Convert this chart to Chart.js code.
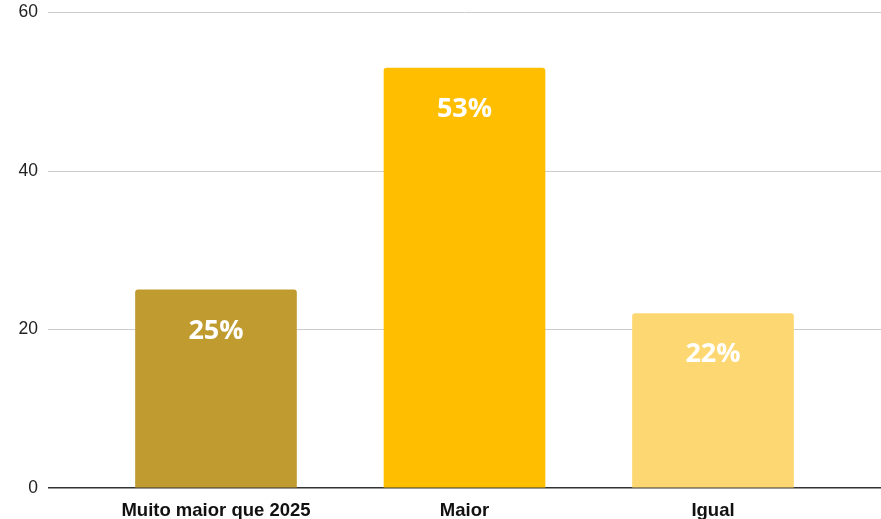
<!DOCTYPE html>
<html>
<head>
<meta charset="utf-8">
<script src="https://cdn.jsdelivr.net/npm/chart.js@4/dist/chart.umd.min.js"></script>
<style>
  html, body { margin: 0; padding: 0; background: #fff; }
  #wrap { width: 881px; height: 519px; }
</style>
</head>
<body>
<div id="wrap"><canvas id="myChart"></canvas></div>
<script>
// categorias e valores (%)
const categories = ['Muito maior que 2025', 'Maior', 'Igual'];
const values = [25, 53, 22];
const barColors = ['#BF9B30', '#FFBF00', '#FDD872'];
const yTicks = [0, 20, 40, 60];

// rótulo branco dentro de cada barra
const valueLabels = {
  id: 'valueLabels',
  afterDatasetsDraw(chart) {
    const ctx = chart.ctx;
    const meta = chart.getDatasetMeta(0);
    ctx.save();
    ctx.fillStyle = '#ffffff';
    ctx.font = 'bold 27px "Open Sans"';
    ctx.textAlign = 'center';
    ctx.textBaseline = 'middle';
    meta.data.forEach((bar, i) => {
      ctx.fillText(values[i] + '%', bar.x, bar.y + 41);
    });
    ctx.restore();
  }
};

let ctx = document.getElementById('myChart').getContext('2d');
new Chart(ctx, {
  type: 'bar',
  data: {
    datasets: [{
      data: values.map((v, i) => ({ x: i, y: v })),
      backgroundColor: barColors,
      barThickness: 161,
      borderRadius: { topLeft: 3, topRight: 3 },
      borderSkipped: 'start'
    }]
  },
  plugins: [valueLabels],
  options: {
    animation: false,
    responsive: true,
    maintainAspectRatio: false,
    layout: { padding: { top: 12.5, right: 0, bottom: 0, left: 0 } },
    plugins: {
      legend: { display: false },
      tooltip: { enabled: false }
    },
    scales: {
      x: {
        type: 'linear',
        offset: false,
        min: -0.676,
        max: 2.676,
        grid: { display: false },
        border: { display: false },
        afterBuildTicks: (scale) => {
          scale.ticks = categories.map((c, i) => ({ value: i }));
        },
        afterFit: (scale) => { scale.height = 31; },
        ticks: {
          padding: 4,
          autoSkip: false,
          maxRotation: 0,
          color: '#111',
          font: { family: 'Liberation Sans, Arial', size: 18.5, weight: 'bold' },
          callback: (v) => categories[v]
        }
      },
      y: {
        min: 0,
        max: 60,
        afterBuildTicks: (scale) => {
          scale.ticks = yTicks.map(v => ({ value: v }));
        },
        afterFit: (scale) => {
          scale.width = 48;
          scale.paddingTop = 0;
          scale.paddingBottom = 0;
        },
        border: { display: false },
        grid: {
          drawTicks: false,
          color: (c) => c.tick.value === 0 ? '#333333' : '#cccccc',
          lineWidth: (c) => c.tick.value === 0 ? 1.5 : 1
        },
        ticks: {
          padding: 10,
          color: '#222',
          font: { family: 'Liberation Sans, Arial', size: 17.5 }
        }
      }
    }
  }
});
</script>
</body>
</html>
